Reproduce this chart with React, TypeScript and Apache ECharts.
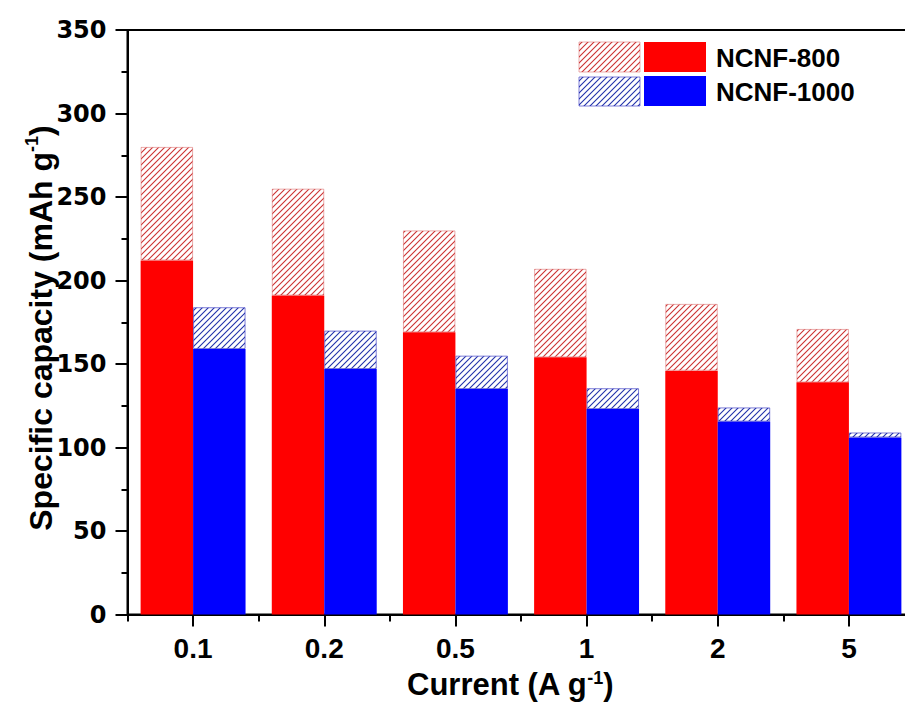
import React, { useEffect, useRef } from 'react';
import * as echarts from 'echarts';

const categories = ['0.1', '0.2', '0.5', '1', '2', '5'];
const ncnf800Solid = [212, 191, 169, 154, 146, 139];
const ncnf800Total = [280, 255, 230, 207, 186, 171];
const ncnf1000Solid = [159, 147, 135, 123, 115.5, 106];
const ncnf1000Total = [184, 170, 155, 135.5, 124, 109];
const legendNames = ['NCNF-800', 'NCNF-1000'];

const FONT = 'Liberation Sans, Arial, sans-serif';
const CHART_W = 930;

function makeHatch(color: string) {
  const s = 6;
  const c = document.createElement('canvas');
  c.width = s;
  c.height = s;
  const ctx = c.getContext('2d')!;
  ctx.fillStyle = '#ffffff';
  ctx.fillRect(0, 0, s, s);
  ctx.strokeStyle = color;
  ctx.lineWidth = 1.1;
  ctx.beginPath();
  ctx.moveTo(0, s);
  ctx.lineTo(s, 0);
  ctx.moveTo(-1, 1);
  ctx.lineTo(1, -1);
  ctx.moveTo(s - 1, s + 1);
  ctx.lineTo(s + 1, s - 1);
  ctx.stroke();
  return { image: c.toDataURL(), repeat: 'repeat', imageWidth: s, imageHeight: s } as any;
}

export default function App() {
  const ref = useRef<HTMLDivElement>(null);
  useEffect(() => {
    if (!ref.current) return;
    const chart = echarts.init(ref.current, undefined, { renderer: 'svg' });
    const redHatch = makeHatch('#cc3333');
    const blueHatch = makeHatch('#2233aa');
    const diff = (t: number[], s: number[]) => t.map((v, i) => +(v - s[i]).toFixed(2));
    const richY = {
      a: { fontFamily: FONT, fontWeight: 'bold', fontSize: 32, lineHeight: 36, fill: '#000' },
      s: { fontFamily: FONT, fontWeight: 'bold', fontSize: 18, lineHeight: 36, verticalAlign: 'top', fill: '#000' },
    };
    const richX = {
      a: { fontFamily: FONT, fontWeight: 'bold', fontSize: 31, lineHeight: 30, fill: '#000' },
      s: { fontFamily: FONT, fontWeight: 'bold', fontSize: 18, lineHeight: 30, verticalAlign: 'top', fill: '#000' },
    };

    const option: any = {
      animation: false,
      backgroundColor: '#ffffff',
      grid: {
        left: 127.5,
        top: 30,
        width: 787,
        bottom: 87.5,
        show: true,
        borderColor: '#000',
        borderWidth: 2,
        backgroundColor: 'transparent',
      },
      xAxis: [
        {
          type: 'category',
          data: categories,
          boundaryGap: true,
          axisLine: { show: true, lineStyle: { color: '#000', width: 2 } },
          axisTick: { show: true, alignWithLabel: false, length: 7, lineStyle: { color: '#000', width: 2 } },
          axisLabel: { show: false },
          splitLine: { show: false },
        },
        {
          type: 'category',
          data: categories,
          position: 'bottom',
          boundaryGap: true,
          axisLine: { show: false },
          axisTick: { show: true, alignWithLabel: true, length: 12, lineStyle: { color: '#000', width: 2 } },
          axisLabel: {
            show: true,
            margin: 20,
            fontFamily: FONT,
            fontWeight: 'bold',
            fontSize: 28,
            color: '#000',
          },
          splitLine: { show: false },
        },
      ],
      yAxis: {
        type: 'value',
        min: 0,
        max: 350,
        interval: 50,
        axisLine: { show: true, lineStyle: { color: '#000', width: 2 } },
        axisTick: { show: true, length: 12, lineStyle: { color: '#000', width: 2 } },
        minorTick: { show: true, splitNumber: 2, length: 6, lineStyle: { color: '#000', width: 2 } },
        splitLine: { show: false },
        axisLabel: {
          margin: 21,
          fontFamily: 'DejaVu Sans, sans-serif',
          fontWeight: 'bold',
          fontSize: 24,
          color: '#000',
        },
      },
      series: [
        {
          type: 'bar',
          name: legendNames[0],
          stack: 'r',
          xAxisIndex: 0,
          data: ncnf800Solid,
          barGap: '0%',
          barCategoryGap: '20%',
          itemStyle: { color: '#ff0000' },
        },
        {
          type: 'bar',
          name: legendNames[0] + ' hatch',
          stack: 'r',
          xAxisIndex: 0,
          data: diff(ncnf800Total, ncnf800Solid),
          itemStyle: { color: redHatch, borderColor: 'rgba(210,70,70,0.45)', borderWidth: 1 },
        },
        {
          type: 'bar',
          name: legendNames[1],
          stack: 'b',
          xAxisIndex: 0,
          data: ncnf1000Solid,
          barGap: '0%',
          barCategoryGap: '20%',
          itemStyle: { color: '#0000ff' },
        },
        {
          type: 'bar',
          name: legendNames[1] + ' hatch',
          stack: 'b',
          xAxisIndex: 0,
          data: diff(ncnf1000Total, ncnf1000Solid),
          itemStyle: { color: blueHatch, borderColor: 'rgba(40,40,190,0.6)', borderWidth: 1 },
        },
      ],
      graphic: [
        {
          type: 'text',
          x: 41,
          y: 328,
          rotation: Math.PI / 2,
          style: {
            text: '{a|Specific capacity (mAh g}{s|-1}{a|)}',
            align: 'center',
            verticalAlign: 'middle',
            fill: '#000',
            rich: richY,
          },
        },
        {
          type: 'text',
          x: 510,
          y: 684,
          style: {
            text: '{a|Current (A g}{s|-1}{a|)}',
            align: 'center',
            verticalAlign: 'middle',
            fill: '#000',
            rich: richX,
          },
        },
        {
          type: 'rect',
          shape: { x: 579, y: 42, width: 61, height: 30 },
          style: { fill: redHatch, stroke: 'rgba(210,70,70,0.45)', lineWidth: 1 },
        },
        {
          type: 'rect',
          shape: { x: 644, y: 42, width: 62, height: 30 },
          style: { fill: '#ff0000' },
        },
        {
          type: 'text',
          x: 716,
          y: 58,
          style: {
            text: legendNames[0],
            fontFamily: FONT,
            fontWeight: 'bold',
            fontSize: 26,
            fill: '#000',
            align: 'left',
            verticalAlign: 'middle',
          },
        },
        {
          type: 'rect',
          shape: { x: 579, y: 77, width: 61, height: 29 },
          style: { fill: blueHatch, stroke: 'rgba(40,40,190,0.6)', lineWidth: 1 },
        },
        {
          type: 'rect',
          shape: { x: 644, y: 76, width: 62, height: 30 },
          style: { fill: '#0000ff' },
        },
        {
          type: 'text',
          x: 716,
          y: 92,
          style: {
            text: legendNames[1],
            fontFamily: FONT,
            fontWeight: 'bold',
            fontSize: 26,
            fill: '#000',
            align: 'left',
            verticalAlign: 'middle',
          },
        },
      ],
    };
    chart.setOption(option);
    return () => chart.dispose();
  }, []);
  return (
    <div
      style={{
        position: 'absolute',
        left: 0,
        top: 0,
        width: 905,
        height: 702,
        overflow: 'hidden',
        background: '#fff',
      }}
    >
      <div ref={ref} style={{ width: CHART_W, height: 702 }} />
    </div>
  );
}
